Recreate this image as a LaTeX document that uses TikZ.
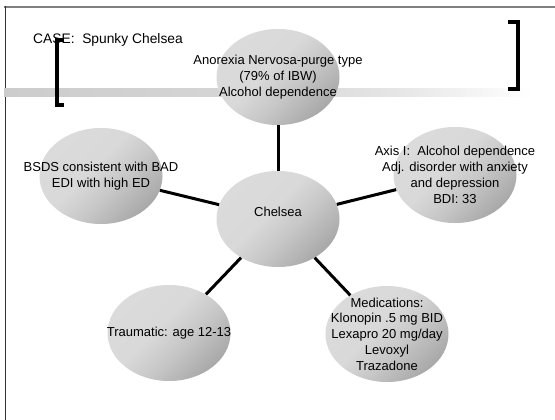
\documentclass[tikz,border=0pt]{standalone}
\usepackage{fontspec}
\setmainfont{Liberation Sans}
\usetikzlibrary{shapes.geometric}
\pgfdeclareverticalshading{blobshade}{100bp}{color(0bp)=(black!36); color(25bp)=(black!34); color(42bp)=(black!22); color(55bp)=(black!15); color(100bp)=(black!13)}
\pgfdeclarehorizontalshading{barshade}{100bp}{color(0bp)=(black!20); color(25bp)=(black!20); color(50bp)=(black!16); color(62bp)=(black!10); color(75bp)=(white); color(100bp)=(white)}
\begin{document}
\begin{tikzpicture}[x=1pt,y=-1pt,
  blob/.style={ellipse, minimum width=123pt, minimum height=96pt, inner sep=0pt, shading=blobshade, shading angle=45},
  txt/.style={align=center, font=\fontsize{13}{15.8}\selectfont, inner sep=0pt},
  link/.style={line width=3pt, black},
  brk/.style={line width=4pt, black}]
\useasboundingbox (0,0) rectangle (555,420);
\fill[white] (0,0) rectangle (555,420);
\draw[line width=2pt, black!50] (4,7) -- (555,7);
\draw[line width=1pt, black!80] (5,6) -- (5,420);
\shade[shading=barshade] (4,89) rectangle (533,97);
% ellipses
\node[blob] (top) at (278,77) {};
\node[blob] (lft) at (101,176) {};
\node[blob] (rgt) at (455,175) {};
\node[blob] (bl) at (169,333) {};
\node[blob] (br) at (387,334) {};
\node[blob] (ctr) at (278,219) {};
% connectors
\draw[link] (ctr) -- (top);
\draw[link] (ctr) -- (lft);
\draw[link] (ctr) -- (rgt);
\draw[link] (ctr) -- (bl);
\draw[link] (ctr) -- (br);
% texts
\node[txt] (ttop) at (top) {Anorexia Nervosa-purge type\\(79\% of IBW)\\Alcohol dependence};
\node[txt] (tctr) at (278,212) {Chelsea};
\node[txt] (tlft) at (lft) {BSDS consistent with BAD\\EDI with high ED};
\node[txt] (trgt) at (rgt) {Axis I:\ \ Alcohol dependence\\Adj. disorder with anxiety\\and depression\\BDI: 33};
\node[txt] (tbl) at (bl) {Traumatic: age 12-13};
\node[txt] (tbr) at (br) {Medications:\\Klonopin .5 mg BID\\Lexapro 20 mg/day\\Levoxyl\\Trazadone};
\node[anchor=west, font=\fontsize{13.8}{16}\selectfont, inner sep=0pt] (case) at (33,40) {CASE:\ \ Spunky Chelsea};
% brackets
\draw[brk] (64,40) -- (57,40) -- (57,105) -- (64,105);
\draw[brk] (508,22.5) -- (518,22.5) -- (518,89) -- (508,89);
\end{tikzpicture}
\end{document}
